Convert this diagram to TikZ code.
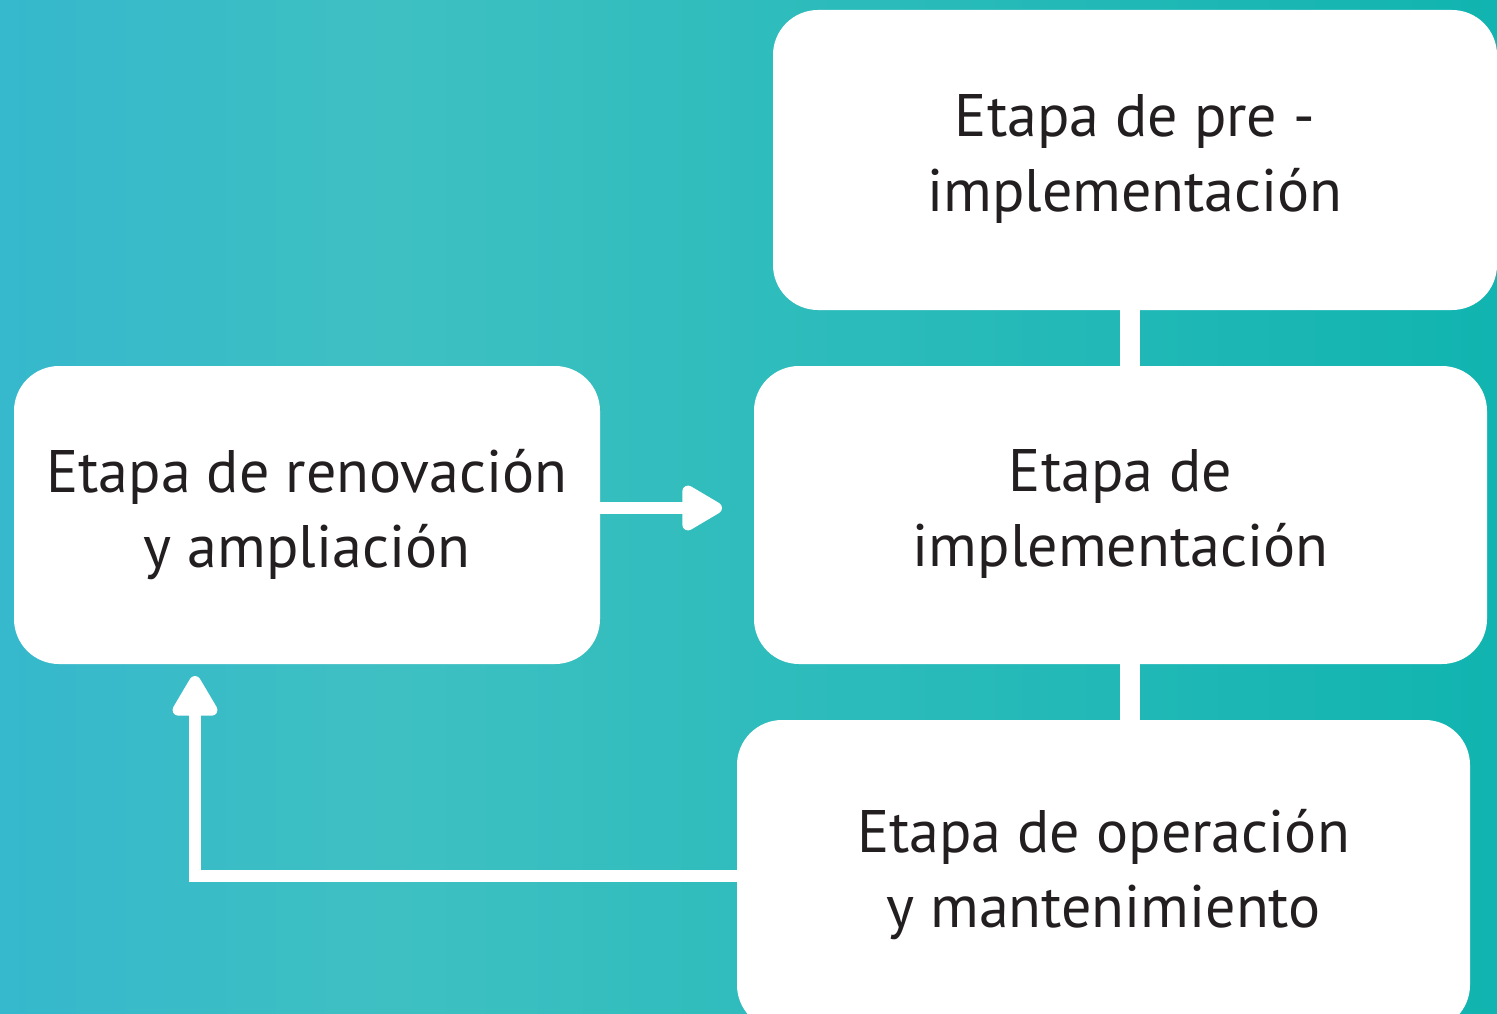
\documentclass[tikz,border=0pt]{standalone}
\usepackage{fontspec}
\setmainfont{PT Sans}
\usetikzlibrary{arrows.meta,calc}
\definecolor{bgA}{RGB}{54,184,205}
\definecolor{bgB}{RGB}{62,192,194}
\definecolor{bgC}{RGB}{17,180,176}
\definecolor{txt}{RGB}{35,31,32}
\tikzset{
  stage/.style={fill=white, rounded corners=45pt, align=center, text=txt,
    font=\fontsize{60}{75}\selectfont, inner sep=0pt},
  link/.style={draw=white, line width=20pt},
  flow/.style={draw=white, line width=12pt,
    -{Triangle[length=46pt, width=50pt, round]}},
}
\begin{document}
\begin{tikzpicture}[x=1pt, y=-1pt]
\useasboundingbox (0,0) rectangle (1497,1014);
\shade[left color=bgA, right color=bgB] (0,0) rectangle (400,1014);
\shade[left color=bgB, right color=bgC] (400,0) rectangle (1497,1014);
% boxes
\node[stage, minimum width=724pt, minimum height=300pt, text depth=14pt] (pre) at (1135,160) {Etapa de pre -\\implementación};
\node[stage, minimum width=733pt, minimum height=298pt, text depth=14pt] (imp) at (1120.5,515) {Etapa de\\implementación};
\node[stage, minimum width=733pt, minimum height=310pt, text depth=14pt] (ope) at (1103.5,875) {Etapa de operación\\y mantenimiento};
\node[stage, minimum width=586pt, minimum height=298pt, text depth=14pt] (ren) at (307,515) {Etapa de renovación\\y ampliación};
% links
\coordinate (lx) at (1130,0);
\draw[link] (pre.south -| lx) -- (imp.north -| lx);
\draw[link] (imp.south -| lx) -- (ope.north -| lx);
% arrows
\coordinate (ra) at (722,508);
\draw[flow] (ren.east |- ra) -- (ra);
\coordinate (ua) at (195,676);
\coordinate (ub) at (0,876);
\draw[flow] (ope.west |- ub) -- (ua |- ub) -- (ua);
\end{tikzpicture}
\end{document}
